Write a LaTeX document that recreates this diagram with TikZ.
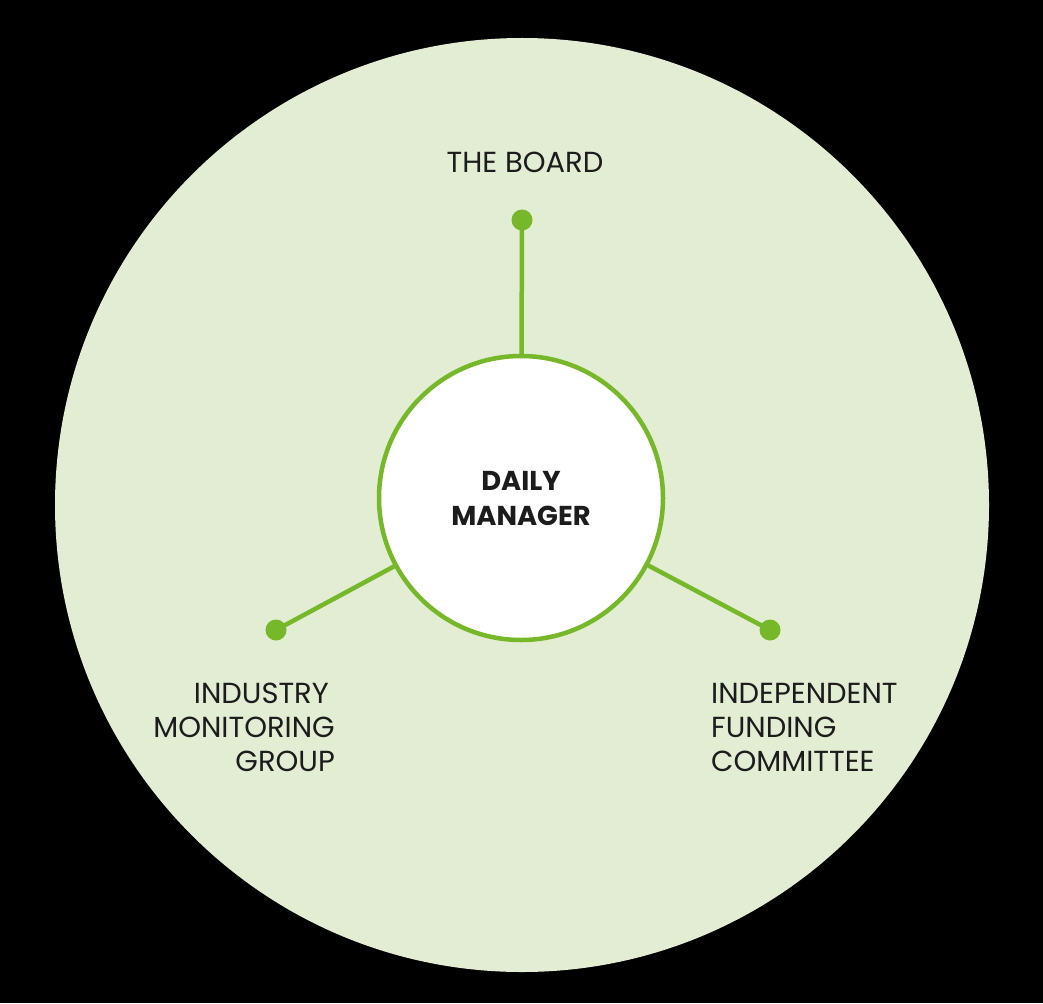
\documentclass[tikz,border=0pt]{standalone}
\usepackage{fontspec}
\setmainfont{Poppins}
\definecolor{bgcircle}{HTML}{E2EDD3}
\definecolor{leaf}{HTML}{76B82A}
\definecolor{ink}{HTML}{1C1C1C}
\begin{document}
\begin{tikzpicture}[x=1pt,y=-1pt,
  link/.style={draw=leaf,line width=4.5pt},
  dot/.style={circle,fill=leaf,inner sep=0pt,minimum size=21pt},
  lbl/.style={text=ink,font=\fontsize{29}{34}\selectfont,inner sep=0pt},
  hub/.style={circle,draw=leaf,line width=4.5pt,fill=white,minimum size=284pt,inner sep=0pt,
    text=ink,font=\fontsize{27.3}{35}\selectfont\bfseries,align=center}]
\fill[black] (0,0) rectangle (1043,1003);
\useasboundingbox (0,0) rectangle (1043,1003);
\fill[bgcircle] (522,505) circle[radius=467];
\node[dot] (db) at (522,220) {};
\node[dot] (dl) at (276,630) {};
\node[dot] (dr) at (770,630) {};
\node[hub] (dm) at (521,498) {DAILY\\MANAGER};
\draw[link] (db.center) -- (dm);
\draw[link] (dl.center) -- (dm);
\draw[link] (dr.center) -- (dm);
\node[lbl,anchor=base] (board) at (525,173) {THE BOARD};
\node[lbl,anchor=base east,align=right] (img) at (335,771) {INDUSTRY\hspace*{6pt}\\MONITORING\\GROUP};
\node[lbl,anchor=base west,align=left] (ifc) at (711,771) {INDEPENDENT\\FUNDING\\COMMITTEE};
\end{tikzpicture}
\end{document}
